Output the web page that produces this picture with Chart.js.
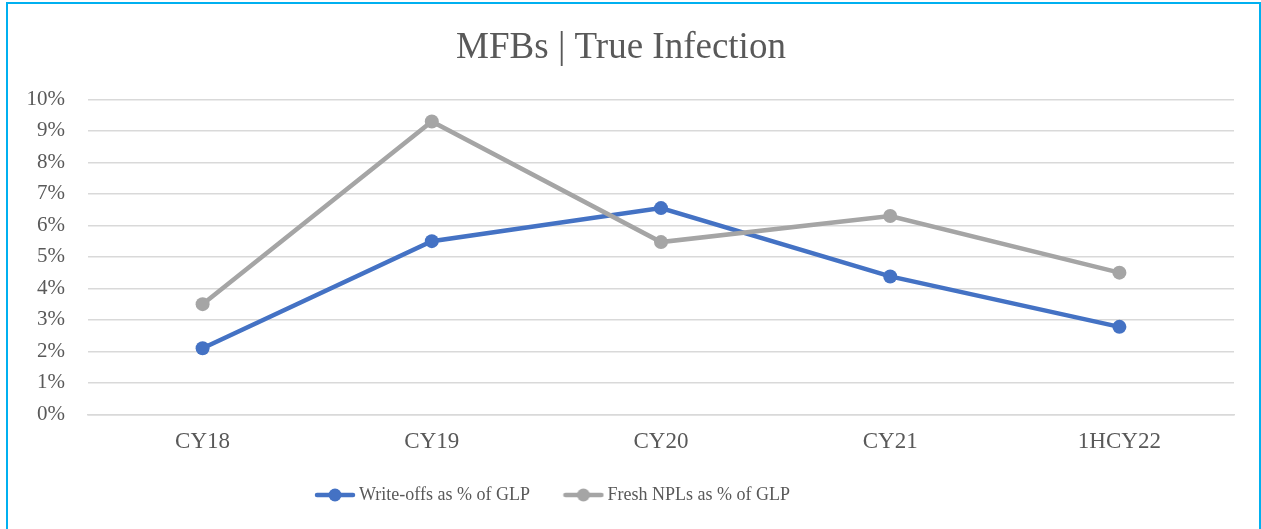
<!DOCTYPE html>
<html>
<head>
<meta charset="utf-8">
<script src="https://cdn.jsdelivr.net/npm/chart.js@4.4.1/dist/chart.umd.min.js"></script>
<style>
  html, body { margin: 0; padding: 0; background: #fff; overflow: hidden; }
  #frame { position: absolute; left: 6px; top: 2px; width: 1251px; height: 600px; border: 2px solid #00B0F0; }
  #wrap { position: absolute; left: 0; top: 0; width: 1261px; height: 529px; }
</style>
</head>
<body>
<div id="frame"></div>
<div id="wrap"><canvas id="chart" width="1261" height="529"></canvas></div>
<script>
const categories = ['CY18', 'CY19', 'CY20', 'CY21', '1HCY22'];
const writeOffs = [2.1, 5.5, 6.55, 4.38, 2.78];
const freshNpls = [3.5, 9.3, 5.47, 6.3, 4.5];
const seriesNames = ['Write-offs as % of GLP', 'Fresh NPLs as % of GLP'];
const seriesColors = ['#4472C4', '#A5A5A5'];

const FONT = '"Liberation Serif", "Times New Roman", serif';
const TEXT = '#595959';

// line-with-dot legend symbol, like the office style
const legendMark = color => {
  const c = document.createElement('canvas');
  c.width = 42;
  c.height = 14;
  const ctx = c.getContext('2d');
  ctx.strokeStyle = color;
  ctx.lineWidth = 4.5;
  ctx.lineCap = 'round';
  ctx.beginPath();
  ctx.moveTo(3, 7);
  ctx.lineTo(39, 7);
  ctx.stroke();
  ctx.fillStyle = color;
  ctx.beginPath();
  ctx.arc(21, 7, 6.5, 0, Math.PI * 2);
  ctx.fill();
  return c;
};
const marks = seriesColors.map(legendMark);

const makeSet = (i, data) => ({
  label: seriesNames[i],
  data,
  borderColor: seriesColors[i],
  backgroundColor: seriesColors[i],
  borderWidth: 4.5,
  pointRadius: 7,
  pointHoverRadius: 7,
  pointBorderWidth: 0,
  tension: 0,
});

// legend sits left of centre in the original
const legendShift = {
  id: 'legendShift',
  afterLayout: chart => {
    const lg = chart.legend;
    const d = 320 - (lg.left + lg.options.labels.padding);
    lg.left += d;
    lg.right += d;
  },
};

new Chart(document.getElementById('chart'), {
  type: 'line',
  data: {
    labels: categories,
    datasets: [makeSet(1, freshNpls), makeSet(0, writeOffs)],
  },
  plugins: [legendShift],
  options: {
    responsive: false,
    animation: false,
    layout: { padding: { left: 8, right: 27, top: 0, bottom: 15 } },
    plugins: {
      title: {
        display: true,
        text: 'MFBs | True Infection',
        color: TEXT,
        font: { family: FONT, size: 37, weight: 'normal' },
        padding: { top: 26, bottom: 29 },
      },
      legend: {
        position: 'bottom',
        align: 'start',
        reverse: true,
        labels: {
          color: TEXT,
          font: { family: FONT, size: 18 },
          usePointStyle: true,
          pointStyleWidth: 30,
          padding: 16,
          generateLabels: chart => chart.data.datasets.map((ds, i) => ({
            text: ds.label === seriesNames[0] ? ds.label + '     ' : ds.label,
            fontColor: TEXT,
            pointStyle: marks[seriesNames.indexOf(ds.label)],
            datasetIndex: i,
            hidden: false,
            lineWidth: 0,
            strokeStyle: 'transparent',
            fillStyle: ds.borderColor,
          })),
        },
      },
      tooltip: { enabled: false },
    },
    scales: {
      x: {
        offset: true,
        grid: { display: false, drawTicks: false },
        border: { display: true, color: '#D9D9D9', width: 1.5 },
        ticks: { color: TEXT, font: { family: FONT, size: 23 }, padding: 14 },
      },
      y: {
        min: 0,
        max: 10,
        afterFit: scale => { scale.width = 80; },
        grid: { color: '#D9D9D9', lineWidth: 1.5, drawTicks: false },
        border: { display: false },
        ticks: {
          stepSize: 1,
          color: TEXT,
          font: { family: FONT, size: 21 },
          padding: 23,
          callback: value => value + '%',
        },
      },
    },
  },
});
</script>
</body>
</html>
